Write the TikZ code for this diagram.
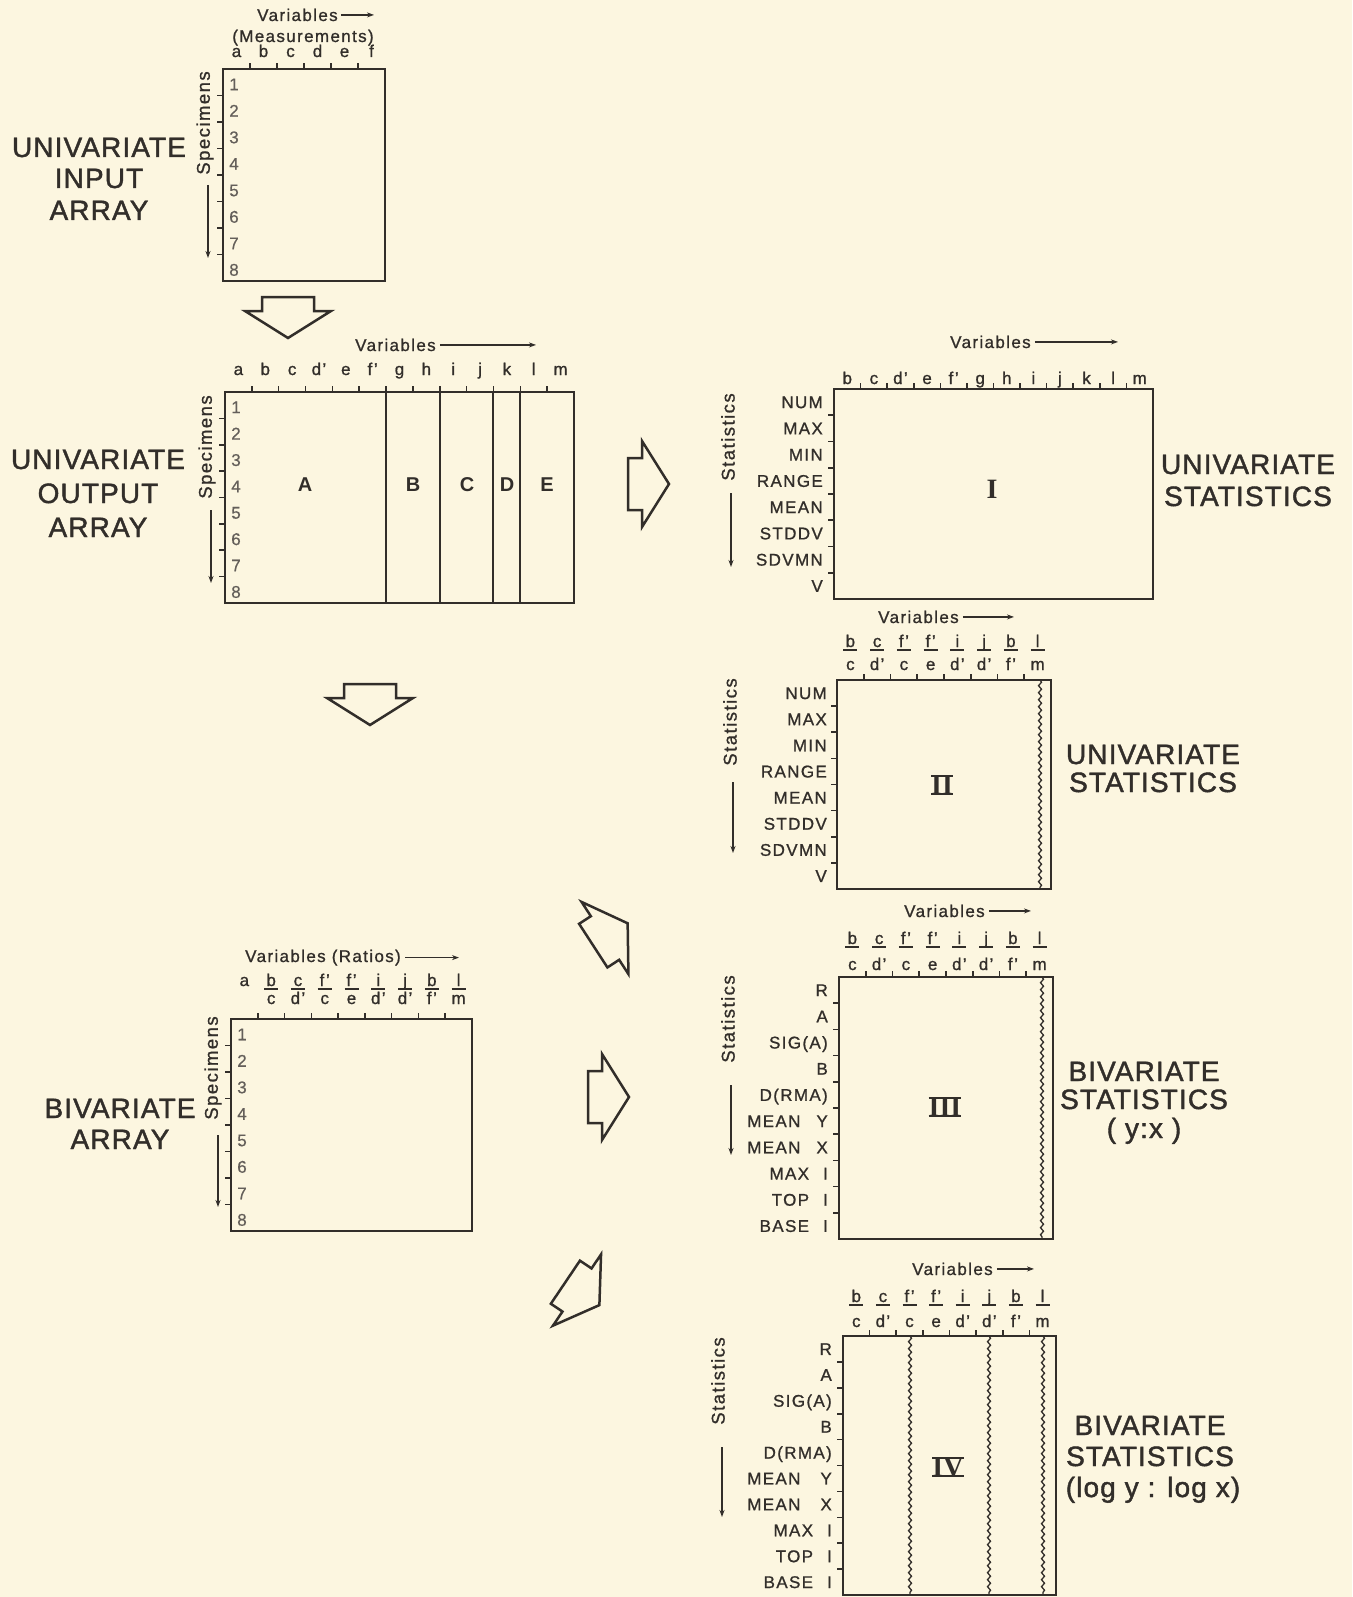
\documentclass[tikz,border=0pt]{standalone}
\usepackage{fontspec}
\setmainfont{Liberation Sans}
\newfontfamily\romfont{Liberation Serif}
\usetikzlibrary{arrows.meta,decorations.pathmorphing}
\definecolor{bg}{RGB}{252,246,224}
\definecolor{ink}{RGB}{50,46,42}
\definecolor{numc}{RGB}{100,95,90}
\newcommand\fsm{\fontsize{17}{20}\selectfont\addfontfeature{LetterSpace=8,FakeBold=1}}
\newcommand\frot{\fontsize{18.5}{20}\selectfont\addfontfeature{LetterSpace=8,FakeBold=1}}
\newcommand\fnm{\fontsize{17}{20}\selectfont\addfontfeature{FakeBold=0.5}}
\newcommand\fbig{\fontsize{28}{32}\selectfont\addfontfeature{LetterSpace=4,FakeBold=1.5}}
\newcommand\fblk{\fontsize{20}{24}\selectfont\bfseries}
\newcommand\frm{\fontsize{28}{32}\selectfont\romfont\bfseries}
\newcommand\rn[1]{\setbox0\hbox{#1}\rlap{\rule[-1pt]{\wd0}{2pt}}\rlap{\rule[\dimexpr\ht0-1pt\relax]{\wd0}{2pt}}\box0}
\tikzset{
  box/.style={draw=ink, line width=2.4pt},
  tickmark/.style={draw=ink, line width=1.6pt},
  part/.style={draw=ink, line width=2pt},
  lbl/.style={font=\fsm, text=ink, inner sep=0pt, anchor=base},
  rowlbl/.style={font=\fsm, text=ink, inner sep=0pt, anchor=base east},
  num/.style={font=\fnm, text=numc, inner sep=0pt, anchor=base},
  big/.style={font=\fbig, text=ink, inner sep=0pt, anchor=base},
  blk/.style={font=\fblk, text=ink, inner sep=0pt},
  rom/.style={font=\frm, text=ink, inner sep=0pt},
  rot/.style={font=\frot, text=ink, inner sep=0pt, rotate=90},
  dirarrow/.style={draw=ink, line width=1.3pt, -{Stealth[length=7pt,width=5pt]}},
  blockarr/.style={draw=ink, line width=2.5pt, line join=miter},
  fbar/.style={draw=ink, line width=1.5pt},
  wavy/.style={draw=ink, line width=1.3pt, decorate, decoration={snake, amplitude=1.5pt, segment length=7pt}},
}
\newcommand\gridbox[6]{%
  \pgfmathsetmacro\cw{(#3-#1)/#5}%
  \pgfmathsetmacro\rh{(#4-#2)/#6}%
  \pgfmathtruncatemacro\nca{#5-1}%
  \pgfmathtruncatemacro\nra{#6-1}%
  \foreach \k in {1,...,\nca}{\draw[tickmark] ({#1+\k*\cw},#2) -- ++(0,-6);}%
  \foreach \k in {1,...,\nra}{\draw[tickmark] (#1,{#2+\k*\rh}) -- ++(-6,0);}%
  \draw[box] (#1,#2) rectangle (#3,#4);%
}
\newcommand\blockarrow[3]{%
  \draw[blockarr, shift={(#1,#2)}, rotate=#3] (-14,-26) -- (0,-26) -- (0,-43) -- (27,0) -- (0,43) -- (0,26) -- (-14,26) -- cycle;%
}
\begin{document}
\begin{tikzpicture}[x=1pt,y=-1pt]
\fill[bg] (0,0) rectangle (1352,1597);
\useasboundingbox (0,0) rectangle (1352,1597);

% ---------------- Box 1: univariate input array
\gridbox{223}{69}{385}{281}{6}{8}
\foreach \l [count=\i] in {a,b,c,d,e,f}
  \node[lbl] (b1c\i) at ({223+27*(\i-0.5)},57) {\l};
\node[lbl] (b1meas) at (303,42) {(Measurements)};
\node[lbl, anchor=base west] (b1var) at (257,21) {Variables};
\draw[dirarrow, shorten <=3pt] (b1var.east) -- (374,0 |- b1var.east);
\node[rot] (b1spec) at (205,123) {Specimens};
\draw[dirarrow] (208,185) -- (208,258);
\foreach \k in {1,...,8}
  \node[num] (b1r\k) at (234,{69+26.5*(\k-0.5)+8}) {\k};
\node[big] (l1a) at (99,157) {UNIVARIATE};
\node[big] (l1b) at (99,188) {INPUT};
\node[big] (l1c) at (99,220) {ARRAY};

% ---------------- Box 2: univariate output array
\gridbox{225}{392}{574}{603}{13}{8}
\foreach \k in {6,8,10,11}
  \draw[part] ({225+349/13*\k},392) -- ({225+349/13*\k},603);
\foreach \l [count=\i] in {a,b,c,d',e,f',g,h,i,j,k,l,m}
  \node[lbl] (b2c\i) at ({225+349/13*(\i-0.5)},375) {\l};
\node[lbl, anchor=base west] (b2var) at (355,351) {Variables};
\draw[dirarrow, shorten <=4pt] (b2var.east) -- (536,0 |- b2var.east);
\node[blk] (blkA) at (305,485) {A};
\node[blk] (blkB) at (413,485) {B};
\node[blk] (blkC) at (467,485) {C};
\node[blk] (blkD) at (507,485) {D};
\node[blk] (blkE) at (547,485) {E};
\node[rot] (b2spec) at (207,447) {Specimens};
\draw[dirarrow] (211,510) -- (211,583);
\foreach \k in {1,...,8}
  \node[num] (b2r\k) at (236,{392+26.375*(\k-0.5)+8}) {\k};
\node[big] (l2a) at (98,469) {UNIVARIATE};
\node[big] (l2b) at (98,503) {OUTPUT};
\node[big] (l2c) at (98,537) {ARRAY};

% ---------------- Box 3: univariate statistics I
\gridbox{834}{389}{1153}{599}{12}{8}
\foreach \l [count=\i] in {b,c,d',e,f',g,h,i,j,k,l,m}
  \node[lbl] (b3c\i) at ({834+319/12*(\i-0.5)},384) {\l};
\node[lbl, anchor=base west] (b3var) at (950,348) {Variables};
\draw[dirarrow, shorten <=4pt] (b3var.east) -- (1118,0 |- b3var.east);
\foreach \l [count=\i] in {NUM,MAX,MIN,RANGE,MEAN,STDDV,SDVMN,V}
  \node[rowlbl] (b3r\i) at (823,{389+26.25*(\i-0.5)+6}) {\l};
\node[rot] (b3stat) at (728,437) {Statistics};
\draw[dirarrow] (731,493) -- (731,567);
\node[rom] (rom1) at (992,489) {I};
\node[big] (l3a) at (1248,474) {UNIVARIATE};
\node[big] (l3b) at (1248,506) {STATISTICS};

% ---------------- Box 4: univariate statistics II
\gridbox{837}{680}{1051}{889}{8}{8}
\draw[wavy] (1040,680) -- (1040,889);
\foreach \n/\d [count=\i] in {b/c,c/d',f'/c,f'/e,i/d',j/d',b/f',l/m}{
  \node[lbl] (b4n\i) at ({837+26.75*(\i-0.5)},647) {\n};
  \node[lbl] (b4d\i) at ({837+26.75*(\i-0.5)},670) {\d};
  \draw[fbar] ({837+26.75*(\i-0.5)-7},650) -- ({837+26.75*(\i-0.5)+7},650);
}
\node[lbl, anchor=base west] (b4var) at (878,623) {Variables};
\draw[dirarrow, shorten <=4pt] (b4var.east) -- (1014,0 |- b4var.east);
\foreach \l [count=\i] in {NUM,MAX,MIN,RANGE,MEAN,STDDV,SDVMN,V}
  \node[rowlbl] (b4r\i) at (827,{680+26.125*(\i-0.5)+6}) {\l};
\node[rot] (b4stat) at (730,722) {Statistics};
\draw[dirarrow] (733,782) -- (733,853);
\node[rom] (rom2) at (942,785) {\rn{II}};
\node[big] (l4a) at (1153,764) {UNIVARIATE};
\node[big] (l4b) at (1153,792) {STATISTICS};

% ---------------- Box 5: bivariate statistics III
\gridbox{839}{977}{1053}{1239}{8}{10}
\draw[wavy] (1042,977) -- (1042,1239);
\foreach \n/\d [count=\i] in {b/c,c/d',f'/c,f'/e,i/d',j/d',b/f',l/m}{
  \node[lbl] (b5n\i) at ({839+26.75*(\i-0.5)},944) {\n};
  \node[lbl] (b5d\i) at ({839+26.75*(\i-0.5)},970) {\d};
  \draw[fbar] ({839+26.75*(\i-0.5)-7},947) -- ({839+26.75*(\i-0.5)+7},947);
}
\node[lbl, anchor=base west] (b5var) at (904,917) {Variables};
\draw[dirarrow, shorten <=4pt] (b5var.east) -- (1031,0 |- b5var.east);
\foreach \l [count=\i] in {{R},{A},{SIG(A)},{B},{D(RMA)},{MEAN\hspace{16pt}Y},{MEAN\hspace{16pt}X},{MAX\hspace{14pt}I},{TOP\hspace{14pt}I},{BASE\hspace{14pt}I}}
  \node[rowlbl] (b5r\i) at (828,{977+26.2*(\i-0.5)+6}) {\l};
\node[rot] (b5stat) at (728,1019) {Statistics};
\draw[dirarrow] (731,1085) -- (731,1155);
\node[rom] (rom3) at (945,1107) {\rn{III}};
\node[big] (l5a) at (1144,1081) {BIVARIATE};
\node[big] (l5b) at (1144,1109) {STATISTICS};
\node[big] (l5c) at (1144,1138) {( y:x )};

% ---------------- Box 6: bivariate statistics IV
\gridbox{843}{1336}{1056}{1595}{8}{10}
\draw[wavy] (910,1336) -- (910,1595);
\draw[wavy] (989,1336) -- (989,1595);
\draw[wavy] (1043,1336) -- (1043,1595);
\foreach \n/\d [count=\i] in {b/c,c/d',f'/c,f'/e,i/d',j/d',b/f',l/m}{
  \node[lbl] (b6n\i) at ({843+26.6*(\i-0.5)},1302) {\n};
  \node[lbl] (b6d\i) at ({843+26.6*(\i-0.5)},1327) {\d};
  \draw[fbar] ({843+26.6*(\i-0.5)-7},1305) -- ({843+26.6*(\i-0.5)+7},1305);
}
\node[lbl, anchor=base west] (b6var) at (912,1275) {Variables};
\draw[dirarrow, shorten <=4pt] (b6var.east) -- (1034,0 |- b6var.east);
\foreach \l [count=\i] in {{R},{A},{SIG(A)},{B},{D(RMA)},{MEAN\hspace{20pt}Y},{MEAN\hspace{20pt}X},{MAX\hspace{14pt}I},{TOP\hspace{14pt}I},{BASE\hspace{14pt}I}}
  \node[rowlbl] (b6r\i) at (832,{1336+25.9*(\i-0.5)+6}) {\l};
\node[rot] (b6stat) at (718,1381) {Statistics};
\draw[dirarrow] (722,1447) -- (722,1517);
\node[rom] (rom4) at (948,1467) {\rn{IV}};
\node[big] (l6a) at (1150,1435) {BIVARIATE};
\node[big] (l6b) at (1150,1466) {STATISTICS};
\node[big] (l6c) at (1153,1497) {(log y : log x)};

% ---------------- Box 7: bivariate array
\gridbox{231}{1019}{472}{1231}{9}{8}
\node[lbl] (b7a) at ({231+241/9*0.5},986) {a};
\foreach \n/\d [count=\i from 2] in {b/c,c/d',f'/c,f'/e,i/d',j/d',b/f',l/m}{
  \node[lbl] (b7n\i) at ({231+241/9*(\i-0.5)},986) {\n};
  \node[lbl] (b7d\i) at ({231+241/9*(\i-0.5)},1004) {\d};
  \draw[fbar] ({231+241/9*(\i-0.5)-7},989) -- ({231+241/9*(\i-0.5)+7},989);
}
\node[lbl, anchor=base west] (b7var) at (245,962) {Variables (Ratios)};
\draw[dirarrow, shorten <=4pt] (b7var.east) -- (459,0 |- b7var.east);
\node[rot] (b7spec) at (213,1068) {Specimens};
\draw[dirarrow] (218,1135) -- (218,1207);
\foreach \k in {1,...,8}
  \node[num] (b7r\k) at (242,{1019+26.5*(\k-0.5)+8}) {\k};
\node[big] (l7a) at (120,1118) {BIVARIATE};
\node[big] (l7b) at (120,1149) {ARRAY};

% ---------------- block arrows
\blockarrow{288}{311}{-90}
\blockarrow{370}{698}{-90}
\blockarrow{642}{484}{0}
\blockarrow{605}{938}{33}
\blockarrow{602}{1097}{0}
\blockarrow{577}{1290}{-34}
\end{tikzpicture}
\end{document}
